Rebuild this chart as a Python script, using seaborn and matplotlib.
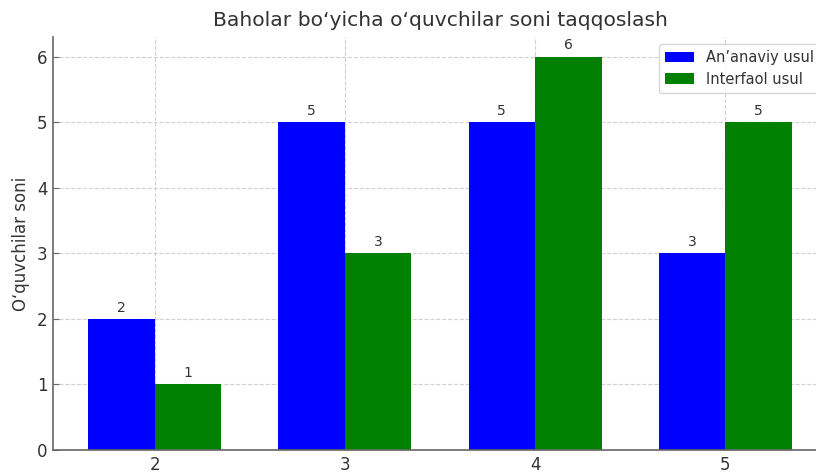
import matplotlib
matplotlib.use("Agg")
import matplotlib.pyplot as plt
import seaborn as sns
import pandas as pd

categories = ["2", "3", "4", "5"]
series_names = ["An’anaviy usul", "Interfaol usul"]
anaviy = [2, 5, 5, 3]
interfaol = [1, 3, 6, 5]
colors = ["blue", "green"]

df = pd.DataFrame({
    "Baho": categories * 2,
    "Soni": anaviy + interfaol,
    "Usul": [series_names[0]] * len(categories) + [series_names[1]] * len(categories),
})

sns.set_style("white")
plt.rcParams["font.family"] = ["DejaVu Sans"]
plt.rcParams["text.color"] = "#333333"

fig = plt.figure(figsize=(8.16, 4.74), dpi=100)
ax = fig.add_axes([53 / 816, 24 / 474, 774 / 816, 413 / 474])

sns.barplot(data=df, x="Baho", y="Soni", hue="Usul", palette=colors,
            width=0.7, saturation=1, linewidth=0, ax=ax, errorbar=None)

for c in ax.containers:
    ax.bar_label(c, padding=3, fontsize=10, color="#333333")

n = len(categories)
ax.set_xlim(-0.535, n - 1 + 0.535)
ax.set_ylim(0, 6.3)
ax.grid(True, linestyle="--", color="#cccccc", linewidth=0.8, alpha=0.9)
ax.set_axisbelow(True)

for s in ["top", "right"]:
    ax.spines[s].set_visible(False)
for s in ["left", "bottom"]:
    ax.spines[s].set_color("#666666")
    ax.spines[s].set_linewidth(1.2)

ax.tick_params(axis="both", labelsize=12, colors="#333333", length=4,
               direction="in", left=True, bottom=True, pad=4)
ax.tick_params(axis="both", color="#666666")
ax.set_title("Baholar bo‘yicha o‘quvchilar soni taqqoslash", fontsize=14.6, color="#333333", pad=8)
ax.set_ylabel("O‘quvchilar soni", fontsize=12, color="#333333", labelpad=5)
ax.set_xlabel("")

leg = ax.legend(loc="upper right", fontsize=10.5, frameon=True, title=None, labelspacing=0.45)
for t in leg.get_texts():
    t.set_color("#333333")

fig.savefig("out.png", dpi=100)
